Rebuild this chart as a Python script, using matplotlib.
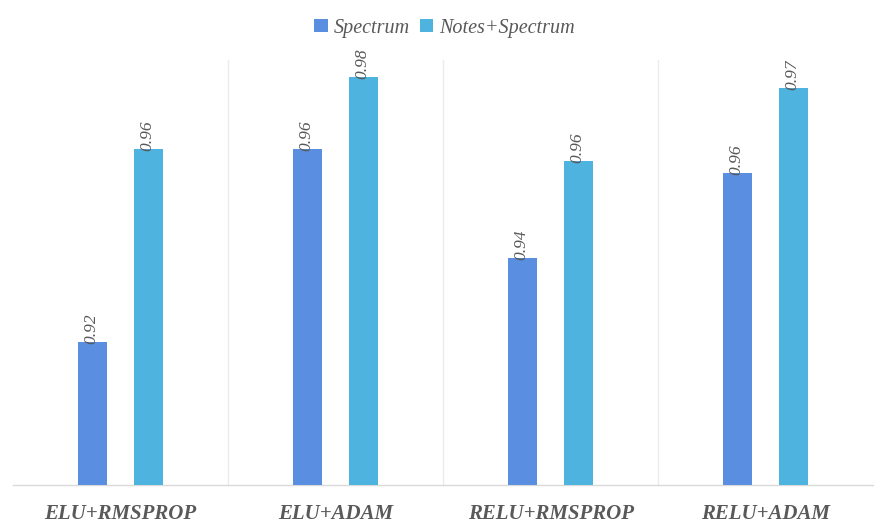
import matplotlib.pyplot as plt
import numpy as np

# accuracy per activation/optimizer combination
categories = ['ELU+RMSPROP', 'ELU+ADAM', 'RELU+RMSPROP', 'RELU+ADAM']
spectrum = [0.9236, 0.9622, 0.9404, 0.9574]
notes_spectrum = [0.9622, 0.9766, 0.9598, 0.9744]
series_names = ['Spectrum', 'Notes+Spectrum']

c_spec = '#5a8ee0'
c_notes = '#4fb3e0'
txt = '#595959'
serif = ['Liberation Serif', 'DejaVu Serif']

fig = plt.figure(figsize=(8.75, 5.29), dpi=100)
ax = fig.add_axes([0.0149, 0.0832, 0.983, 0.8034])

x = np.arange(len(categories))
w = 0.135
off = 0.131
b1 = ax.bar(x - off, spectrum, w, color=c_spec, label=series_names[0], zorder=3)
b2 = ax.bar(x + off, notes_spectrum, w, color=c_notes, label=series_names[1], zorder=3)

# value labels, rotated upward from the top of each bar
for bars, vals in [(b1, spectrum), (b2, notes_spectrum)]:
    for rect, v in zip(bars, vals):
        ax.text(rect.get_x() + rect.get_width() / 2 - 0.005, v - 0.0004, '%.2f' % v,
                rotation=90, ha='center', va='bottom', fontsize=12.5,
                style='italic', family=serif, color=txt, zorder=4)

ax.set_xlim(-0.5, 3.5)
ax.set_ylim(0.895, 0.98)
ax.set_yticks([])
ax.set_xticks(x)
ax.set_xticklabels(categories, fontsize=15, style='italic', fontweight='bold',
                   family=serif, color=txt)
ax.tick_params(axis='x', length=0, pad=14)

# light separators between the groups
for s in x[:-1] + 0.5:
    ax.axvline(s, color='#ebebeb', lw=1, zorder=1)

for side in ['top', 'left', 'right']:
    ax.spines[side].set_visible(False)
ax.spines['bottom'].set_color('#d9d9d9')
ax.spines['bottom'].set_linewidth(1)

fig.legend(handles=[b1, b2], loc='center', bbox_to_anchor=(0.508, 0.947), ncol=2,
           frameon=False, handlelength=0.65, handleheight=0.65, handletextpad=0.3,
           columnspacing=0.5, prop={'family': serif, 'style': 'italic', 'size': 14.5},
           labelcolor=txt)

fig.savefig('out.png', dpi=100)
